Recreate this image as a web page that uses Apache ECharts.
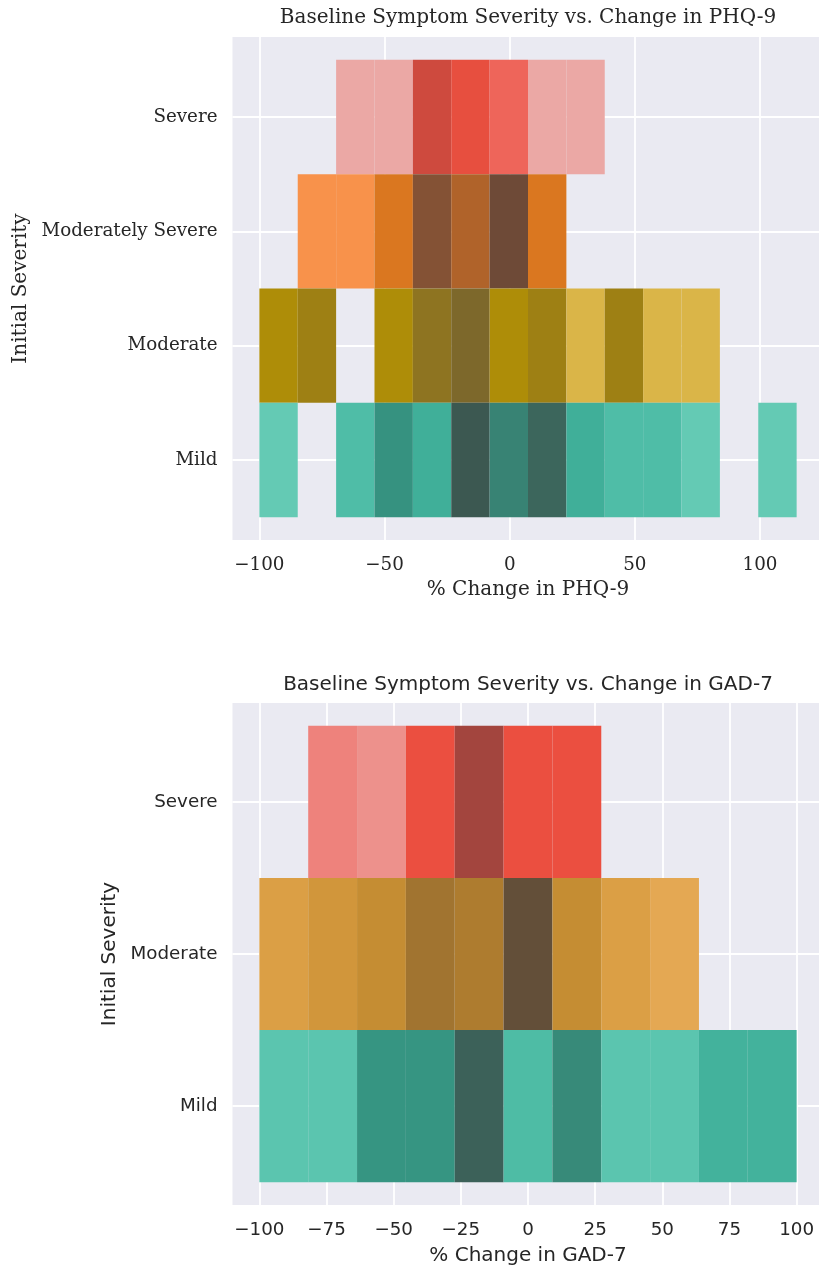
<!DOCTYPE html>
<html>
<head>
<meta charset="utf-8">
<script src="https://cdn.jsdelivr.net/npm/echarts@6/dist/echarts.min.js"></script>
<style>html,body{margin:0;padding:0;background:#fff;overflow:hidden;}#c{width:830px;height:1271px;}</style>
</head>
<body>
<div id="c"></div>
<script>
// ---------------- DATA ----------------
// PHQ-9 chart: 14 bins from -100 with width 15.33 (% change)
const phqCategories = ['Severe', 'Moderately Severe', 'Moderate', 'Mild'];
const phqBinStart = -100;
const phqBinWidth = 15.33;
const phqSevere      = [0, 0, 1, 1, 6, 5, 4, 1, 1, 0, 0, 0, 0, 0];
const phqModSevere   = [0, 2, 2, 4, 8, 6, 9, 4, 0, 0, 0, 0, 0, 0];
const phqModerate    = [4, 5, 0, 4, 6, 7, 4, 5, 1, 5, 1, 1, 0, 0];
const phqMild        = [1, 0, 2, 5, 3, 9, 6, 8, 3, 2, 2, 1, 0, 1];
const phqTicks = [-100, -50, 0, 50, 100];

// GAD-7 chart: 11 bins from -100 to 100
const gadCategories = ['Severe', 'Moderate', 'Mild'];
const gadBinStart = -100;
const gadBinWidth = 200 / 11;
const gadSevere   = [0, 4, 3, 7, 11, 7, 7, 0, 0, 0, 0];
const gadModerate = [3, 4, 5, 8, 7, 13, 5, 3, 2, 0, 0];
const gadMild     = [2, 2, 7, 7, 12, 3, 8, 2, 2, 4, 4];
const gadTicks = [-100, -75, -50, -25, 0, 25, 50, 75, 100];

// hue colours
const phqColors = ['#e74c3c', '#e67e22', '#f1c40f', '#48c9b0'];
const gadColors = ['#e74c3c', '#f5b041', '#48c9b0'];

// ---------------- HUSL colormap (as seaborn) ----------------
const M = [[3.240454162114103, -1.537138512797715, -0.49853140955601],
           [-0.969266030505187, 1.876010845446694, 0.041556017530350],
           [0.055643430959114, -0.204025913516754, 1.057225188223179]];
const MINV = [[0.41245643908969, 0.3575760776439, 0.18043748326639],
              [0.21267285140562, 0.71515215528781, 0.072174993062455],
              [0.019333895582329, 0.1191920258813, 0.95030407853636]];
const refU = 0.19783000664283, refV = 0.46831999493879;
const kappa = 903.2962962, eps = 0.0088564516;
function maxChroma(L, H) {
  const hr = H * Math.PI / 180, sH = Math.sin(hr), cH = Math.cos(hr);
  const sub1 = Math.pow(L + 16, 3) / 1560896;
  const sub2 = sub1 > eps ? sub1 : L / kappa;
  let res = Infinity;
  for (const [m1, m2, m3] of M) {
    const tp = (0.99915 * m1 + 1.05122 * m2 + 1.14460 * m3) * sub2;
    const rb = 0.86330 * m3 - 0.17266 * m2;
    const lb = 0.12949 * m3 - 0.38848 * m1;
    const bottom = (rb * sH + lb * cH) * sub2;
    for (const t of [0, 1]) {
      const C = L * (tp - 1.05122 * t) / (bottom + 0.17266 * sH * t);
      if (C > 0 && C < res) res = C;
    }
  }
  return res;
}
function hexToRgb(h) { return [1, 3, 5].map(i => parseInt(h.slice(i, i + 2), 16) / 255); }
function rgbToHusl(rgb) {
  const lin = c => c > 0.04045 ? Math.pow((c + 0.055) / 1.055, 2.4) : c / 12.92;
  const [R, G, B] = rgb.map(lin);
  const X = MINV[0][0] * R + MINV[0][1] * G + MINV[0][2] * B;
  const Y = MINV[1][0] * R + MINV[1][1] * G + MINV[1][2] * B;
  const Z = MINV[2][0] * R + MINV[2][1] * G + MINV[2][2] * B;
  const d = X + 15 * Y + 3 * Z;
  if (d === 0) return [0, 0, 0];
  const vu = 4 * X / d, vv = 9 * Y / d;
  const fy = Y > eps ? Math.cbrt(Y) : 7.787 * Y + 16 / 116;
  const L = 116 * fy - 16;
  if (L <= 0) return [0, 0, 0];
  const U = 13 * L * (vu - refU), V = 13 * L * (vv - refV);
  const C = Math.hypot(U, V);
  let H = Math.atan2(V, U) * 180 / Math.PI;
  if (H < 0) H += 360;
  if (L > 99.9999999) return [H, 0, 100];
  return [H, C / maxChroma(L, H) * 100, L];
}
function huslToHex(H, S, L) {
  let rgb;
  if (L > 99.9999999) rgb = [1, 1, 1];
  else if (L < 1e-8) rgb = [0, 0, 0];
  else {
    const C = maxChroma(L, H) / 100 * S;
    const hr = H * Math.PI / 180;
    const U = C * Math.cos(hr), V = C * Math.sin(hr);
    const t = (L + 16) / 116;
    const Y = Math.pow(t, 3) > eps ? Math.pow(t, 3) : (116 * t - 16) / kappa;
    const vu = U / (13 * L) + refU, vv = V / (13 * L) + refV;
    const X = -(9 * Y * vu) / ((vu - 4) * vv - vu * vv);
    const Z = (9 * Y - 15 * vv * Y - vv * X) / (3 * vv);
    const fromLin = c => c <= 0.0031308 ? 12.92 * c : 1.055 * Math.pow(c, 1 / 2.4) - 0.055;
    rgb = M.map(r => fromLin(r[0] * X + r[1] * Y + r[2] * Z));
  }
  return '#' + rgb.map(c => Math.round(Math.min(1, Math.max(0, c)) * 255).toString(16).padStart(2, '0')).join('');
}
function rampColor(base, t) {
  const [h, s] = rgbToHusl(hexToRgb(base));
  const i = Math.min(255, Math.max(0, Math.floor(t * 256)));
  const k = 255 - i;
  const L = 35 + 45 * k / 255;
  const xx = -1 + 2 * k / 293;
  return huslToHex(h, s * Math.cos(xx), L);
}

// ---------------- BUILD ----------------
const minus = v => v < 0 ? '\u2212' + Math.abs(v) : String(v);
const textColor = '#262626';

function buildChart(idx, cats, rows, colors, binStart, binWidth, ticks, font, title, xName, layout) {
  const nBins = rows[0].length;
  const lo = binStart, hi = binStart + nBins * binWidth, span = hi - lo;
  const vmax = Math.max(...rows.flat());
  const n = cats.length;
  const grid = { left: layout.left, top: layout.top, width: layout.width, height: layout.height,
    show: true, backgroundColor: '#EAEAF2', borderWidth: 0 };
  const xAxis = {
    type: 'value', gridIndex: idx, min: lo - 0.05 * span, max: hi + 0.05 * span,
    name: xName, nameLocation: 'middle', nameGap: layout.xNameGap,
    nameTextStyle: { fontFamily: font, fontSize: 20, color: textColor },
    axisLine: { show: false },
    axisTick: { show: false, customValues: ticks },
    axisLabel: { customValues: ticks, formatter: minus, fontFamily: font, fontSize: 18.3, color: textColor, margin: layout.xLabelMargin },
    splitLine: { show: true, lineStyle: { color: '#ffffff', width: 1.8 } }
  };
  const catIdx = cats.map((c, i) => i);
  const yAxis = {
    type: 'value', gridIndex: idx, inverse: true, min: -0.5 - 0.05 * n, max: n - 0.5 + 0.05 * n,
    name: 'Initial Severity', nameLocation: 'middle', nameGap: layout.yNameGap, nameRotate: 90,
    nameTextStyle: { fontFamily: font, fontSize: 20, color: textColor },
    axisLine: { show: false },
    axisTick: { show: false, customValues: catIdx },
    axisLabel: { customValues: catIdx, formatter: v => cats[Math.round(v)], fontFamily: font, fontSize: 18.3, color: textColor, margin: 15 },
    splitLine: { show: true, lineStyle: { color: '#ffffff', width: 1.8 } }
  };
  const series = rows.map((row, ci) => ({
    type: 'custom', xAxisIndex: idx, yAxisIndex: idx, name: cats[ci],
    data: row.map((cnt, b) => [b, ci, cnt]).filter(d => d[2] > 0),
    renderItem: (params, api) => {
      const b = api.value(0), c = api.value(1), cnt = api.value(2);
      const x0 = binStart + b * binWidth, x1 = x0 + binWidth;
      const p0 = api.coord([x0, c - 0.5]);
      const p1 = api.coord([x1, c + 0.5]);
      return {
        type: 'rect',
        shape: { x: Math.min(p0[0], p1[0]), y: Math.min(p0[1], p1[1]),
                 width: Math.abs(p1[0] - p0[0]), height: Math.abs(p1[1] - p0[1]) },
        style: { fill: rampColor(colors[ci], cnt / vmax) }
      };
    }
  }));
  const titleOpt = { text: title, left: layout.left + layout.width / 2, top: layout.titleTop, textAlign: 'center', padding: 0,
    textStyle: { fontFamily: font, fontSize: 20, fontWeight: 'normal', color: textColor } };
  return { grid, xAxis, yAxis, series, title: titleOpt };
}

const chartTop = buildChart(0, phqCategories, [phqSevere, phqModSevere, phqModerate, phqMild], phqColors,
  phqBinStart, phqBinWidth, phqTicks, 'DejaVu Serif',
  'Baseline Symptom Severity vs. Change in PHQ-9', '% Change in PHQ-9',
  { left: 232.5, top: 37, width: 591, height: 503, xNameGap: 40, xLabelMargin: 16, yNameGap: 200, titleTop: 8 });
const chartBot = buildChart(1, gadCategories, [gadSevere, gadModerate, gadMild], gadColors,
  gadBinStart, gadBinWidth, gadTicks, 'DejaVu Sans',
  'Baseline Symptom Severity vs. Change in GAD-7', '% Change in GAD-7',
  { left: 232.5, top: 703, width: 591, height: 502, xNameGap: 41, xLabelMargin: 16, yNameGap: 110, titleTop: 675 });

const chart = echarts.init(document.getElementById('c'), null, { renderer: 'canvas' });
chart.setOption({
  animation: false,
  backgroundColor: '#ffffff',
  title: [chartTop.title, chartBot.title],
  grid: [chartTop.grid, chartBot.grid],
  xAxis: [chartTop.xAxis, chartBot.xAxis],
  yAxis: [chartTop.yAxis, chartBot.yAxis],
  series: [...chartTop.series, ...chartBot.series]
});
</script>
</body>
</html>
